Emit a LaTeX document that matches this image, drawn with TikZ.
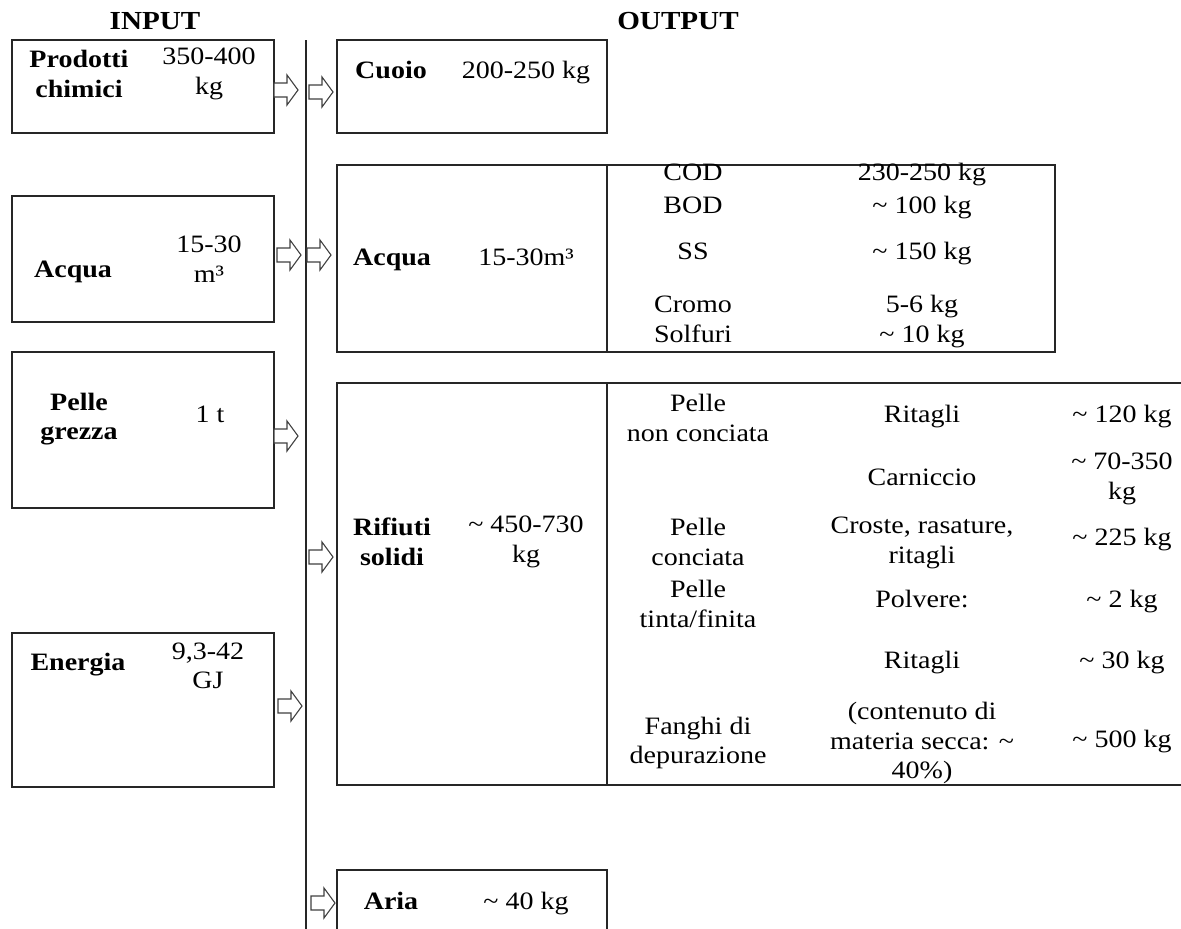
\documentclass[tikz,border=0pt]{standalone}
\usepackage{fontspec}
\setmainfont{Liberation Serif}[FakeStretch=1.12]
\newcommand{\apx}{\textasciitilde}
\tikzset{
  box/.style={draw=black!85, line width=1.4pt},
  txt/.style={font=\fontsize{25}{29}\selectfont, align=center, inner sep=0pt, text height=17pt, text depth=6pt},
  mtxt/.style={font=\fontsize{25}{29.5}\selectfont, align=center, inner sep=0pt},
  lbl/.style={txt, font=\fontsize{25}{29}\selectfont\bfseries},
  mlbl/.style={mtxt, font=\fontsize{25}{29.5}\selectfont\bfseries},
  hdr/.style={txt, font=\fontsize{26}{30}\selectfont\bfseries},
  barrow/.pic={\draw[line width=1.1pt, fill=white, draw=black!75]
     (0,-7) -- (13,-7) -- (13,-15) -- (24,0) -- (13,15) -- (13,7) -- (0,7) -- cycle;}
}
\begin{document}
\begin{tikzpicture}[x=1pt, y=-1pt]
\useasboundingbox (0,0) rectangle (1181,929);

% headers
\node[hdr] (hin) at (155,24) {INPUT};
\node[hdr] (hout) at (678,24) {OUTPUT};

% central line
\draw[line width=1.4pt, black!85] (306,40) -- (306,935);

% input boxes
\draw[box] (12,40) rectangle (274,133);
\draw[box] (12,196) rectangle (274,322);
\draw[box] (12,352) rectangle (274,508);
\draw[box] (12,633) rectangle (274,787);

% output boxes
\draw[box] (337,40) rectangle (607,133);
\draw[box] (337,165) rectangle (1055,352);
\draw[box] (607,165) -- (607,352);
\draw[box] (1190,383) -- (337,383) -- (337,785) -- (1190,785);
\draw[box] (607,383) -- (607,785);
\draw[box] (337,940) -- (337,870) -- (607,870) -- (607,940);

% block arrows
\pic (a1) at (274,90) {barrow};
\pic (a2) at (309,92) {barrow};
\pic (a3) at (277,255) {barrow};
\pic (a4) at (307,255) {barrow};
\pic (a5) at (274,436) {barrow};
\pic (a6) at (309,557) {barrow};
\pic (a7) at (278,706) {barrow};
\pic (a8) at (311,903) {barrow};

% input texts
\node[mlbl] (i1l) at (79,74) {Prodotti\\chimici};
\node[mtxt] (i1v) at (209,74) {350-400\\kg};
\node[lbl] (i2l) at (73,272) {Acqua};
\node[mtxt] (i2v) at (209,259) {15-30\\m³};
\node[mlbl] (i3l) at (79,419) {Pelle\\grezza};
\node[txt] (i3v) at (210,417) {1 t};
\node[lbl] (i4l) at (78,665) {Energia};
\node[mtxt] (i4v) at (208,666) {9,3-42\\GJ};

% output: cuoio
\node[lbl] (o1l) at (391,73) {Cuoio};
\node[txt] (o1v) at (526,73) {200-250 kg};

% output: acqua
\node[lbl] (o2l) at (392,260) {Acqua};
\node[txt] (o2v) at (526,260) {15-30m³};
\node[txt] (w1a) at (693,175) {COD};
\node[txt] (w1b) at (922,175) {230-250 kg};
\node[txt] (w2a) at (693,208) {BOD};
\node[txt] (w2b) at (922,208) {\apx{} 100 kg};
\node[txt] (w3a) at (693,254) {SS};
\node[txt] (w3b) at (922,254) {\apx{} 150 kg};
\node[txt] (w4a) at (693,307) {Cromo};
\node[txt] (w4b) at (922,307) {5-6 kg};
\node[txt] (w5a) at (693,337) {Solfuri};
\node[txt] (w5b) at (922,337) {\apx{} 10 kg};

% output: rifiuti solidi
\node[mlbl] (o3l) at (392,542) {Rifiuti\\solidi};
\node[mtxt] (o3v) at (526,542) {\apx{} 450-730\\kg};
\node[mtxt] (r1a) at (698,418) {Pelle\\non conciata};
\node[txt] (r1b) at (922,417) {Ritagli};
\node[txt] (r1c) at (1122,417) {\apx{} 120 kg};
\node[txt] (r2b) at (922,480) {Carniccio};
\node[mtxt] (r2c) at (1122,479) {\apx{} 70-350\\kg};
\node[mtxt] (r3a) at (698,542) {Pelle\\conciata};
\node[mtxt] (r3b) at (922,543) {Croste, rasature,\\ritagli};
\node[txt] (r3c) at (1122,540) {\apx{} 225 kg};
\node[mtxt] (r4a) at (698,604) {Pelle\\tinta/finita};
\node[txt] (r4b) at (922,602) {Polvere:};
\node[txt] (r4c) at (1122,602) {\apx{} 2 kg};
\node[txt] (r5b) at (922,663) {Ritagli};
\node[txt] (r5c) at (1122,663) {\apx{} 30 kg};
\node[mtxt] (r6a) at (698,743) {Fanghi di\\depurazione};
\node[mtxt] (r6b) at (922,743) {(contenuto di\\materia secca: \apx\\40\%)};
\node[txt] (r6c) at (1122,742) {\apx{} 500 kg};

% output: aria
\node[lbl] (o4l) at (391,904) {Aria};
\node[txt] (o4v) at (526,904) {\apx{} 40 kg};
\end{tikzpicture}
\end{document}
